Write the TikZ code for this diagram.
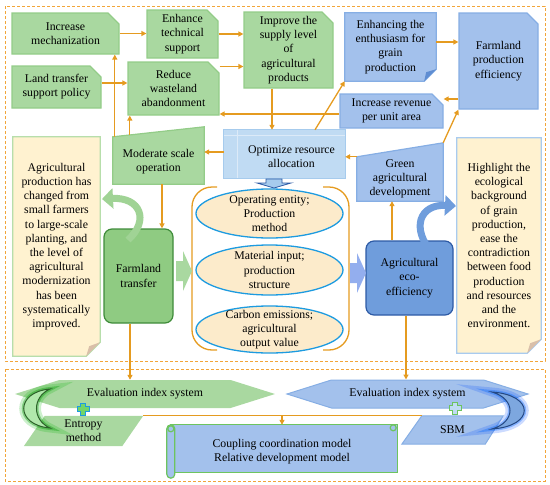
\documentclass[tikz,border=0pt]{standalone}
\usepackage{fontspec}
\setmainfont{Liberation Serif}
\usetikzlibrary{shapes.misc,shapes.symbols,arrows.meta,backgrounds}

\definecolor{gfill}{HTML}{A9D8A0}
\definecolor{gline}{HTML}{93CC88}
\definecolor{bfill}{HTML}{A3C1EC}
\definecolor{bline}{HTML}{86AEE4}
\definecolor{ofill}{HTML}{C0DBF3}
\definecolor{oline}{HTML}{A6CBED}
\definecolor{oinner}{HTML}{DCEAF8}
\definecolor{ftfill}{HTML}{8FCB82}
\definecolor{ftline}{HTML}{3F8C3A}
\definecolor{aefill}{HTML}{6F9DDC}
\definecolor{aeline}{HTML}{2D5AA5}
\definecolor{efill}{HTML}{FCEBCB}
\definecolor{eline}{HTML}{1D9BE0}
\definecolor{nfill}{HTML}{FFF2D0}
\definecolor{nlline}{HTML}{B7DEAB}
\definecolor{nrline}{HTML}{A9CBEF}
\definecolor{nfold}{HTML}{D9BFA9}
\definecolor{bfold}{HTML}{5F8DD2}
\definecolor{orng}{HTML}{E59B20}
\definecolor{zonec}{HTML}{F2A53A}
\definecolor{ccline}{HTML}{6DC45F}

\begin{document}
\begin{tikzpicture}[x=1pt, y=-1pt, >={Triangle[length=5pt, width=5pt]},
    txt/.style={align=center, inner sep=0pt, font=\fontsize{11.8}{14.2}\selectfont},
    snip/.style={txt, chamfered rectangle, chamfered rectangle corners=north east, chamfered rectangle xsep=8pt},
    gbox/.style={fill=gfill, draw=gline, line width=1.2pt},
    bbox/.style={fill=bfill, draw=bline, line width=1.2pt},
    notebox/.style={fill=nfill, line width=1.2pt},
    ell/.style={fill=efill, draw=eline, line width=1.3pt},
    link/.style={draw=orng, line width=1.3pt, ->},
    bracket/.style={draw=orng, line width=1.3pt, rounded corners=20pt},
    zone/.style={draw=zonec, line width=1pt, dash pattern=on 3pt off 2pt}]

  \useasboundingbox (0,0) rectangle (550,485);
  \draw[zone] (5,6) rectangle (545,361);
  \draw[zone] (5,369) rectangle (545,481);

  \node[snip, gbox, minimum width=107pt, minimum height=41pt] (IM) at (65.5,33.5) {Increase\\mechanization};
  \node[snip, gbox, minimum width=71pt, minimum height=48pt] (ET) at (182.5,34) {Enhance\\technical\\support};
  \node[snip, gbox, minimum width=89pt, minimum height=76pt] (IS) at (288.5,50) {Improve the\\supply level\\of\\agricultural\\products};
  \node[snip, gbox, minimum width=89pt, minimum height=42pt] (LP) at (56.5,87) {Land transfer\\support policy};
  \node[snip, gbox, minimum width=91pt, minimum height=53pt] (RW) at (173.5,88.5) {Reduce\\wasteland\\abandonment};
  \node[txt, minimum width=91pt, minimum height=68pt] (EE) at (390.5,47) {Enhancing the\\enthusiasm for\\grain\\production};
  \node[snip, bbox, minimum width=79pt, minimum height=96pt] (FE) at (498.5,61) {Farmland\\production\\efficiency};
  \node[snip, bbox, minimum width=103pt, minimum height=34pt] (IR) at (391.5,111) {Increase revenue\\per unit area};
  \node[txt, minimum width=107pt, minimum height=42pt] (OR) at (291.5,157) {Optimize resource\\allocation};
  \node[txt, minimum width=91pt, minimum height=44pt] (MS) at (158.5,162) {Moderate scale\\operation};
  \node[txt, minimum width=86pt, minimum height=44pt] (GD) at (400,179) {Green\\agricultural\\development};

  \node[txt, minimum width=87pt, minimum height=219pt] (NL) at (56.5,246.5) {Agricultural\\production has\\changed from\\small farmers\\to large-scale\\planting, and\\the level of\\agricultural\\modernization\\has been\\systematically\\improved.};
  \node[txt, minimum width=84pt, minimum height=215pt] (NR) at (499,245.5) {Highlight the\\ecological\\background\\of grain\\production,\\ease the\\contradiction\\between food\\production\\and resources\\and the\\environment.};

  \node[txt, fill=ftfill, draw=ftline, line width=1.2pt, rounded corners=8pt, minimum width=69pt, minimum height=94pt] (FT) at (138.5,276) {Farmland\\transfer};
  \node[txt, fill=aefill, draw=aeline, line width=1.2pt, rounded corners=8pt, minimum width=87pt, minimum height=74pt] (AE) at (409.5,278) {Agricultural\\eco-\\efficiency};

  \node[txt, minimum width=147pt, minimum height=49pt] (E1) at (269.5,213.5) {Operating entity;\\Production\\method};
  \node[txt, minimum width=147pt, minimum height=50pt] (E2) at (269.5,270) {Material input;\\production\\structure};
  \node[txt, minimum width=147pt, minimum height=47pt] (E3) at (269.5,329.5) {Carbon emissions;\\agricultural\\output value};

  \node[txt, signal, signal to=west and east, signal pointer angle=35, fill=gfill, minimum width=260pt, minimum height=28pt] (EG) at (145,394) {Evaluation index system};
  \node[txt, signal, signal to=west and east, signal pointer angle=35, fill=bfill, draw=bline, line width=1pt, minimum width=241pt, minimum height=28pt] (EB) at (407.5,394) {Evaluation index system};
  \node[txt, minimum width=119pt, minimum height=30pt] (EM) at (83.5,431) {Entropy\\method};
  \node[txt, minimum width=101pt, minimum height=28pt] (SB) at (452.5,430) {SBM};
  \node[txt, minimum width=230pt, minimum height=53pt] (CC) at (282,451.5) {Coupling coordination model\\Relative development model};

  \begin{scope}[on background layer]
    \draw[bbox] (EE.north west) -- (EE.north east) -- ([yshift=12pt]EE.south east) -- ([xshift=-12pt]EE.south east) -- (EE.south west) -- cycle;
    \fill[bfold] ([yshift=12pt]EE.south east) -- ([xshift=-12pt]EE.south east) -- ([xshift=-10pt, yshift=9pt]EE.south east) -- cycle;
    \draw[fill=ofill, draw=oline, line width=1pt] ([xshift=-14pt, yshift=6pt]OR.north west) rectangle (OR.south east);
    \draw[draw=oinner, line width=1pt] ([yshift=6pt]OR.north west) -- (OR.south west);
    \draw[draw=oinner, line width=1pt] ([xshift=-14pt]OR.north west) -- (OR.north east);
    \draw[gbox] (MS.south west) -- ([yshift=3pt]MS.north west) -- ([yshift=13pt]MS.north east) -- (MS.south east) -- cycle;
    \draw[bbox] (GD.south west) -- (GD.north west) -- ([yshift=14pt]GD.north east) -- (GD.south east) -- cycle;
    \draw[notebox, draw=nlline] (NL.north west) -- (NL.north east) -- ([yshift=14pt]NL.south east) -- ([xshift=-14pt]NL.south east) -- (NL.south west) -- cycle;
    \fill[nfold] ([yshift=14pt]NL.south east) -- ([xshift=-14pt]NL.south east) -- ([xshift=-11pt, yshift=10pt]NL.south east) -- cycle;
    \draw[notebox, draw=nrline] (NR.north west) -- (NR.north east) -- ([yshift=14pt]NR.south east) -- ([xshift=-14pt]NR.south east) -- (NR.south west) -- cycle;
    \fill[nfold] ([yshift=14pt]NR.south east) -- ([xshift=-14pt]NR.south east) -- ([xshift=-11pt, yshift=10pt]NR.south east) -- cycle;
    \draw[ell] (E1) ellipse [x radius=73.5pt, y radius=24.5pt];
    \draw[ell] (E2) ellipse [x radius=73.5pt, y radius=25pt];
    \draw[ell] (E3) ellipse [x radius=73.5pt, y radius=23.5pt];
    \fill[gfill] (EM.south west) -- ([xshift=21pt]EM.north west) -- (EM.north east) -- ([xshift=-21pt]EM.south east) -- cycle;
    \draw[bbox, line width=1pt] (SB.south west) -- ([xshift=20pt]SB.north west) -- (SB.north east) -- ([xshift=-18pt]SB.south east) -- cycle;
    \draw[bbox, draw=ccline] ([xshift=4pt]CC.north west) rectangle ([yshift=6pt]CC.south east);
    \draw[bbox, draw=ccline, rounded corners=4pt] (CC.north west) rectangle ([xshift=8pt]CC.south west);
    \draw[bbox, draw=ccline] ([xshift=4pt, yshift=-4pt]CC.north west) circle (3pt);
    \draw[bbox, draw=ccline] ([xshift=-4pt, yshift=-3pt]CC.north east) circle (3pt);
  \end{scope}

  % bracket round the three ellipses
  \draw[bracket] (217,187) -- (192,187) -- (192,350) -- (217,350);
  \draw[bracket] (323,187) -- (349,187) -- (349,350) -- (323,350);

  \fill[gfill] (176,261) -- (183,261) -- (183,251) -- (192,271) -- (183,291) -- (183,281) -- (176,281) -- cycle;
  \fill[bfill!90!blue] (350,263) -- (357,263) -- (357,253) -- (366,273) -- (357,293) -- (357,283) -- (350,283) -- cycle;
  \draw[fill=oline, draw=aeline, line width=0.8pt] (266,179) -- (282,179) -- (282,183) -- (291,183) -- (274,188) -- (257,183) -- (266,183) -- cycle;

  \draw[line width=7pt, draw=ftfill!85!white, -{Triangle[length=11pt, width=20pt]}] (128,240) .. controls (150,220) and (140,197) .. (102,199);
  \draw[line width=7pt, draw=aefill, -{Triangle[length=11pt, width=20pt]}] (433,254) .. controls (410,228) and (420,204) .. (456,206);

  \draw[link] (IM.east) -- (IM.east -| ET.west);
  \draw[link] (ET.east) -- (ET.east -| IS.west);
  \draw[link] ([yshift=4pt]LP.east) -- ([yshift=4pt]LP.east -| RW.west);
  \draw[link] ([yshift=22pt]RW.east) -- ([yshift=22pt]RW.east -| IS.west);
  \draw[link] ([xshift=2pt, yshift=3pt]MS.north west) -- ([xshift=2pt]MS.north west |- IM.south);
  \draw[link] ([xshift=17pt, yshift=5pt]MS.north west) -- ([xshift=17pt]MS.north west |- RW.south);
  \draw[link] ([yshift=-3pt]IR.west) -- ([yshift=-3pt]IR.west -| RW.east);
  \draw[link] ([xshift=-16.5pt]IS.south) -- ([xshift=-19.5pt, yshift=6pt]OR.north);
  \draw[link] ([xshift=23.5pt, yshift=6pt]OR.north) -- (EE.south west);
  \draw[link] ([yshift=5pt]EE.east) -- ([yshift=5pt]EE.east -| FE.west);
  \draw[link] ([yshift=-38pt]FE.west) -- ([yshift=-38pt]FE.west -| IR.east);
  \draw[link] ([yshift=14pt]GD.north east) -- (FE.south west);
  \draw[link] (GD.north west) -- (GD.north west -| OR.east);
  \draw[link] ([xshift=-14pt, yshift=5pt]OR.west) -- ([yshift=5pt]OR.west -| MS.east);
  \draw[link] ([xshift=3.5pt]MS.south) -- ([xshift=3.5pt]MS.south |- FT.north);
  \draw[link] ([xshift=-8pt]GD.south |- AE.north) -- ([xshift=-8pt]GD.south);
  \draw[link] ([xshift=-8.5pt]FT.south) -- ([xshift=-8.5pt]FT.south |- EG.north);
  \draw[link] ([xshift=-3.5pt]AE.south) -- ([xshift=-3.5pt]AE.south |- EB.north);
  \draw[draw=orng, line width=1.3pt] (EM.north east) -- ([xshift=20pt]SB.north west);
  \draw[link] (CC.north |- EM.north east) -- (CC.north);

  % moons and crosses
  \draw[fill=green!15!gfill!70!white, draw=ftline!70!black, line width=1pt,
    preaction={draw=green!70!black, line width=9pt, opacity=.2},
    preaction={draw=green!60!black, line width=4pt, opacity=.35}]
    (50,389) .. controls (15,392) and (15,425) .. (50,428) .. controls (32,420) and (32,397) .. (50,389) -- cycle;
  \draw[fill=aefill!90!white, draw=aeline!80!black, line width=1pt,
    preaction={draw=blue!70!cyan, line width=9pt, opacity=.2},
    preaction={draw=blue!60!cyan, line width=4pt, opacity=.35}]
    (492,392) .. controls (535,395) and (535,426) .. (492,429) .. controls (516,422) and (516,399) .. (492,392) -- cycle;
  \draw[fill=ftfill!80!green, draw=eline, line width=1pt] (83,409) ++(-2.5,-6) -- ++(5,0) -- ++(0,3.5) -- ++(3.5,0) -- ++(0,5) -- ++(-3.5,0) -- ++(0,3.5) -- ++(-5,0) -- ++(0,-3.5) -- ++(-3.5,0) -- ++(0,-5) -- ++(3.5,0) -- cycle;
  \draw[fill=ofill, draw=ccline, line width=1pt] (455,408) ++(-2.5,-6) -- ++(5,0) -- ++(0,3.5) -- ++(3.5,0) -- ++(0,5) -- ++(-3.5,0) -- ++(0,3.5) -- ++(-5,0) -- ++(0,-3.5) -- ++(-3.5,0) -- ++(0,-5) -- ++(3.5,0) -- cycle;
\end{tikzpicture}
\end{document}
